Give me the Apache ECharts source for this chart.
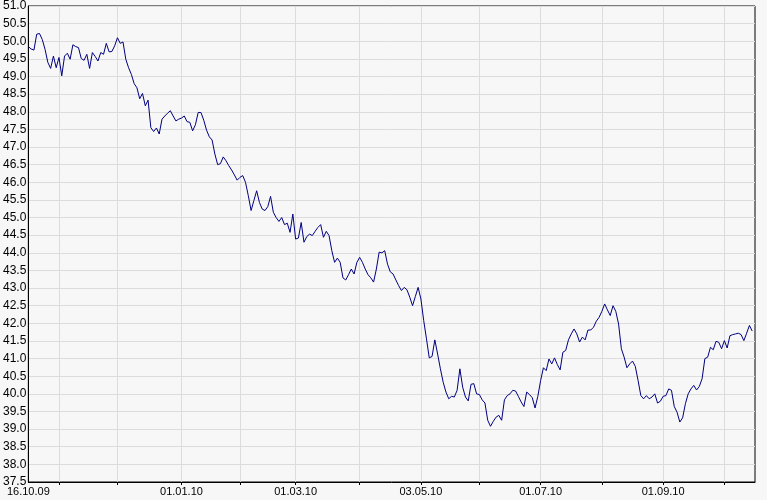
<!DOCTYPE html>
<html>
<head>
<meta charset="utf-8">
<script src="https://cdn.jsdelivr.net/npm/echarts@6/dist/echarts.min.js"></script>
<style>
  html, body { margin: 0; padding: 0; background: #f7f7f7; }
  #chart { width: 767px; height: 500px; }
</style>
</head>
<body>
<div id="chart"></div>
<script>
// Trading-day axis: weekdays starting 16.10.09
const startDate = '2009-10-16';
const categoryCount = 262;

// Labelled ticks
const tickLabels = ['16.10.09', '01.01.10', '01.03.10', '03.05.10', '01.07.10', '01.09.10'];
// Vertical grid lines (first trading day of each month)
const gridDates = ['02.11.09', '01.12.09', '01.01.10', '01.02.10', '01.03.10', '01.04.10',
                   '03.05.10', '01.06.10', '01.07.10', '02.08.10', '01.09.10', '01.10.10'];

// Y axis
const yMin = 37.5, yMax = 51.0, yStep = 0.5;

// Price series (one value per weekday from 16.10.09)
const prices = [
  49.85, 49.78, 49.75, 50.20, 50.22, 50.05, 49.77, 49.40, 49.23, 49.58,
  49.25, 49.54, 49.02, 49.58, 49.66, 49.49, 49.90, 49.85, 49.82, 49.51,
  49.46, 49.63, 49.23, 49.68, 49.57, 49.44, 49.68, 49.63, 49.94, 49.70,
  49.71, 49.87, 50.10, 49.94, 49.98, 49.49, 49.25, 49.06, 48.80, 48.68,
  48.37, 48.52, 48.17, 48.33, 47.55, 47.44, 47.54, 47.37, 47.79, 47.88,
  47.96, 48.03, 47.88, 47.74, 47.79, 47.82, 47.88, 47.72, 47.70, 47.46,
  47.63, 47.98, 47.98, 47.76, 47.48, 47.29, 47.20, 46.80, 46.50, 46.53,
  46.72, 46.61, 46.47, 46.35, 46.21, 46.06, 46.14, 46.19, 46.00, 45.62,
  45.20, 45.48, 45.76, 45.43, 45.24, 45.20, 45.31, 45.60, 45.15, 45.00,
  44.89, 45.00, 44.80, 44.84, 44.58, 45.10, 44.39, 44.42, 44.86, 44.30,
  44.46, 44.53, 44.49, 44.61, 44.72, 44.80, 44.44, 44.61, 44.49, 44.06,
  43.73, 43.85, 43.73, 43.29, 43.23, 43.38, 43.54, 43.40, 43.73, 43.87,
  43.73, 43.54, 43.38, 43.29, 43.17, 43.54, 44.02, 44.00, 44.06, 43.68,
  43.46, 43.40, 43.23, 43.07, 42.93, 43.02, 42.95, 42.74, 42.50, 42.76,
  43.02, 42.69, 42.08, 41.56, 41.02, 41.06, 41.53, 41.13, 40.71, 40.33,
  40.05, 39.86, 39.93, 39.91, 40.10, 40.71, 40.19, 39.91, 39.80, 40.27,
  40.29, 40.00, 39.98, 39.83, 39.74, 39.25, 39.08, 39.22, 39.34, 39.39,
  39.25, 39.83, 39.95, 40.00, 40.10, 40.08, 39.93, 39.77, 39.64, 40.05,
  39.98, 39.89, 39.60, 39.93, 40.38, 40.74, 40.66, 40.99, 40.85, 41.02,
  40.83, 40.68, 41.18, 41.23, 41.53, 41.70, 41.84, 41.70, 41.47, 41.61,
  41.53, 41.81, 41.81, 41.89, 42.06, 42.17, 42.34, 42.55, 42.38, 42.22,
  42.50, 42.34, 41.98, 41.28, 41.04, 40.74, 40.85, 40.93, 40.78, 40.38,
  39.95, 39.86, 39.95, 39.86, 39.91, 40.00, 39.74, 39.79, 39.93, 39.95,
  40.14, 40.10, 39.64, 39.48, 39.20, 39.32, 39.72, 40.00, 40.14, 40.24,
  40.11, 40.21, 40.43, 41.00, 41.04, 41.32, 41.25, 41.49, 41.46, 41.28,
  41.51, 41.30, 41.65, 41.68, 41.70, 41.72, 41.68, 41.51, 41.72, 41.94,
  41.78
];

// Build weekday category labels
function pad(n) { return (n < 10 ? '0' : '') + n; }
const categories = [];
{
  const d = new Date(startDate + 'T12:00:00Z');
  while (categories.length < categoryCount) {
    const wd = d.getUTCDay();
    if (wd !== 0 && wd !== 6) {
      categories.push(pad(d.getUTCDate()) + '.' + pad(d.getUTCMonth() + 1) + '.' + pad(d.getUTCFullYear() % 100));
    }
    d.setUTCDate(d.getUTCDate() + 1);
  }
}

const font = 'Liberation Sans, Arial, sans-serif';
const chart = echarts.init(document.getElementById('chart'), null, { renderer: 'canvas' });
chart.setOption({
  animation: false,
  backgroundColor: '#f7f7f7',
  grid: {
    left: 27, right: 12, top: 5, bottom: 18,
    show: true, backgroundColor: '#f7f7f7', borderColor: '#000', borderWidth: 1
  },
  xAxis: {
    type: 'category',
    data: categories,
    boundaryGap: false,
    axisLine: { show: true, lineStyle: { color: '#000', width: 1 } },
    axisTick: {
      show: true, length: 3, inside: false,
      interval: function (i, v) { return gridDates.indexOf(v) >= 0; },
      lineStyle: { color: '#000' }
    },
    axisLabel: {
      interval: function (i, v) { return tickLabels.indexOf(v) >= 0; },
      color: '#000', fontSize: 11, fontFamily: font, margin: 4
    },
    splitLine: {
      show: true,
      interval: function (i, v) { return gridDates.indexOf(v) >= 0; },
      lineStyle: { color: '#dcdcdc', width: 1 }
    }
  },
  yAxis: {
    type: 'value',
    min: yMin, max: yMax, interval: yStep,
    axisLine: { show: true, lineStyle: { color: '#000', width: 1 } },
    axisTick: { show: false },
    axisLabel: {
      color: '#000', fontSize: 12, fontFamily: font, margin: 2,
      formatter: function (v) { return v.toFixed(1); }
    },
    splitLine: { show: true, lineStyle: { color: '#dcdcdc', width: 1 } }
  },
  series: [{
    type: 'line',
    data: prices,
    showSymbol: false,
    symbol: 'none',
    lineStyle: { color: '#000080', width: 1 },
    itemStyle: { color: '#000080' }
  }]
});
</script>
</body>
</html>
